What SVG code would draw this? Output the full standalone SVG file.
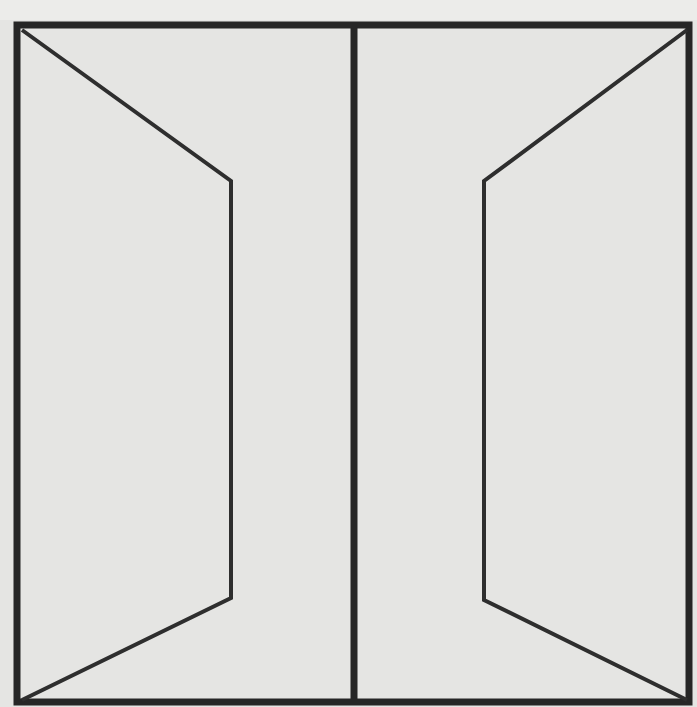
<svg xmlns="http://www.w3.org/2000/svg" width="697" height="707" viewBox="0 0 697 707">
<style>
.frame{fill:none;stroke:#262626;stroke-width:7;stroke-linejoin:miter}
.inner{fill:none;stroke:#2e2e2e;stroke-width:4;stroke-linejoin:miter}
</style>
<rect x="0" y="0" width="697" height="707" fill="#e5e5e3"/>
<rect x="0" y="0" width="697" height="20" fill="#ececea"/>
<g id="frame">
<rect class="frame" x="17" y="25" width="672" height="677"/>
<line class="frame" x1="354" y1="25" x2="354" y2="702"/>
</g>
<g id="left-panel">
<polyline class="inner" points="22,30 231,181 231,598 22,700"/>
</g>
<g id="right-panel">
<polyline class="inner" points="687,30 484,181 484,600 687,700"/>
</g>
</svg>
